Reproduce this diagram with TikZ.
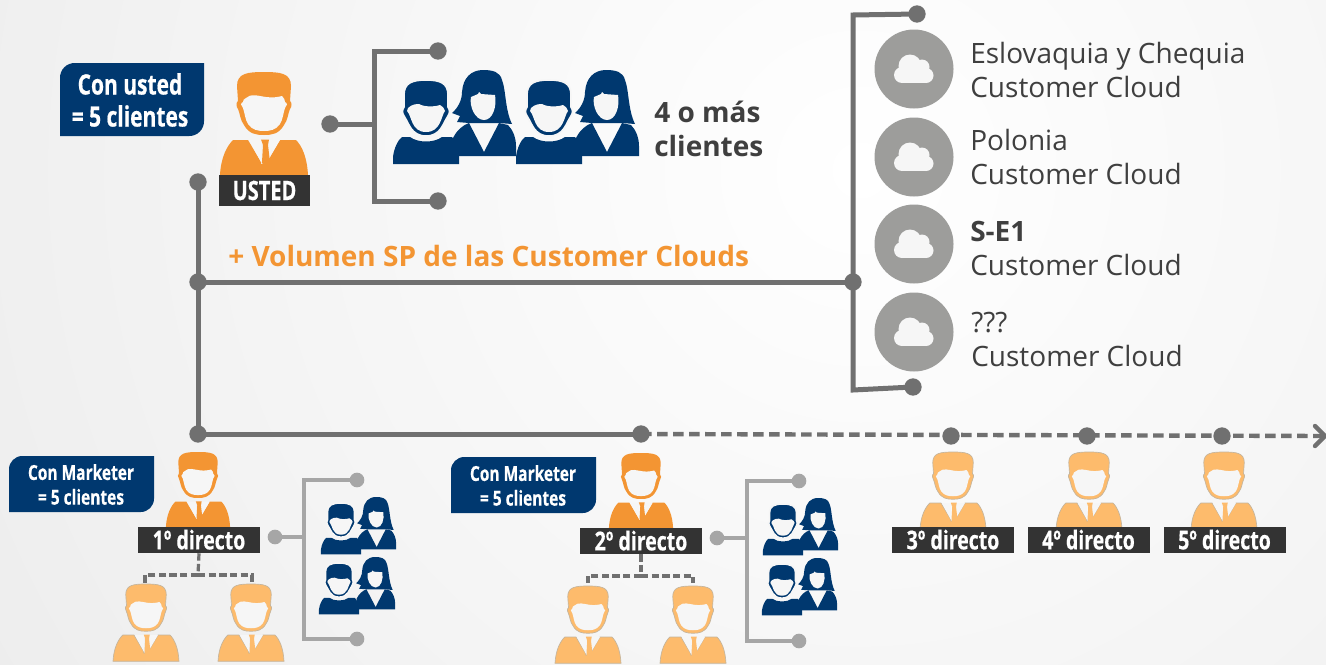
\documentclass[tikz,border=0pt]{standalone}
\usepackage{fontspec}
\setmainfont{Open Sans}
\newfontfamily\cond[FakeStretch=0.75,FakeBold=0.5]{Open Sans Bold}
\newcommand{\plateup}[1]{\raisebox{.8pt}{#1}}
\definecolor{navy}{HTML}{00386F}
\definecolor{orangeM}{HTML}{F39533}
\definecolor{orangeL}{HTML}{FDBB6C}
\definecolor{edgeL}{HTML}{C4B59E}
\definecolor{darkL}{HTML}{333333}
\definecolor{lineD}{HTML}{707070}
\definecolor{lineL}{HTML}{A6A6A6}
\definecolor{cloudG}{HTML}{9D9D9B}
\definecolor{faceC}{HTML}{F6F6F6}
\definecolor{txt}{HTML}{3F3F3F}
\tikzset{
  conn/.style={draw=lineD,line width=3.75pt},
  connL/.style={draw=lineL,line width=3pt},
  dashc/.style={draw=lineD,line width=3.3pt,dash pattern=on 8pt off 4pt},
  tree/.style={draw=lineD,line width=2.4pt,dash pattern=on 5.5pt off 2.5pt},
  dotD/.style={circle,fill=lineD,inner sep=0pt,minimum size=13pt},
  dotL/.style={circle,fill=lineL,inner sep=0pt,minimum size=11pt},
  plate/.style={fill=darkL,text=white,inner sep=0pt,font=\cond\fontsize{19.5}{22}\selectfont,minimum height=19.5pt,minimum width=91.5pt},
  calloutA/.style={text=white,align=center,inner sep=0pt,font=\cond\fontsize{21}{24}\selectfont},
  calloutB/.style={text=white,align=center,inner sep=0pt,font=\cond\fontsize{15.5}{18.5}\selectfont},
  ccloud/.style={text=txt,align=left,anchor=west,inner sep=0pt,font=\fontsize{21}{25.5}\selectfont},
  pics/man/.style n args={2}{code={
    \path[fill=#1,draw=#2,line width=.5pt] (0,0) .. controls (16,0) and (27,1) .. (27,14)
      -- (26,29) .. controls (28,30) and (28,35) .. (26,37)
      .. controls (24,41) and (24,48) .. (20,53)
      .. controls (15,62) and (8,63) .. (0,63)
      .. controls (-8,63) and (-15,62) .. (-20,53)
      .. controls (-24,48) and (-24,41) .. (-26,37)
      .. controls (-28,35) and (-28,30) .. (-26,29)
      -- (-27,14) .. controls (-27,1) and (-16,0) .. (0,0) -- cycle;
    \path[fill=faceC] (-18,26) .. controls (-13,21) and (-6,24) .. (2,25)
      .. controls (9,26) and (14,25) .. (18,24)
      .. controls (20,26) and (21,28) .. (21,30)
      .. controls (24,31) and (23,34) .. (21,36)
      .. controls (19,42) and (19,47) .. (16,52)
      .. controls (12,58) and (6,59) .. (0,59)
      .. controls (-6,59) and (-12,58) .. (-16,52)
      .. controls (-19,47) and (-19,42) .. (-21,36)
      .. controls (-23,34) and (-24,31) .. (-21,30)
      .. controls (-21,28) and (-20,27) .. (-18,26) -- cycle;
    \path[fill=#1,draw=#2,line width=.5pt] (-44,103) .. controls (-43,85) and (-37,74) .. (-31,68)
      -- (-16,68) -- (-3,90) -- (-3,92) -- (3,92) -- (3,90) -- (16,68) -- (32,68)
      .. controls (38,74) and (43,85) .. (44,103) -- cycle;
    \path[fill=faceC] (-15,68) -- (-3,90) -- (-3,72) -- (3,72) -- (3,90) -- (16,68) -- cycle;
    \path[fill=#1] (-3,67.5) -- (5,67.5) -- (4,73) -- (6,90) -- (0,98) -- (-2,90) -- (-1,73) -- cycle;
  }},
  pics/teamman/.style={code={
    \path[fill=navy,draw=faceC,line width=1.2pt] (0,0) .. controls (14,0) and (22,3) .. (22,15)
      -- (22,27) .. controls (24,30) and (24,33) .. (22,36)
      .. controls (17,43) and (15,56) .. (0,56)
      .. controls (-15,56) and (-17,43) .. (-22,36)
      .. controls (-24,33) and (-24,30) .. (-22,27)
      -- (-22,15) .. controls (-22,3) and (-14,0) .. (0,0) -- cycle;
    \path[fill=faceC] (-18,28) .. controls (-14,24) and (-9,24) .. (-7,24)
      .. controls (-2,27) and (8,27) .. (14,25)
      .. controls (17,27) and (19,29) .. (19,31)
      .. controls (15,36) and (15,52) .. (0,52)
      .. controls (-15,52) and (-14,36) .. (-19,31) -- cycle;
    \path[fill=navy] (-33,84) -- (-33,77) .. controls (-32,68) and (-28,60) .. (-24,57)
      -- (-16,57) .. controls (-8,63) and (8,63) .. (16,57) -- (26,57)
      .. controls (30,62) and (33,68) .. (33,75) -- (33,84) -- cycle;
  }},
  pics/teamwoman/.style={code={
    \path[fill=navy] (0,0) .. controls (10,0) and (17,2) .. (19,10)
      .. controls (23,20) and (22,40) .. (29,54)
      -- (16,53) -- (1,53) -- (-14,53) -- (-26,52) -- (-23,46) -- (-31,43)
      .. controls (-25,38) and (-21,30) .. (-21,22)
      .. controls (-20,8) and (-12,0) .. (0,0) -- cycle;
    \path[fill=faceC] (-12,27) -- (-5,24) -- (-4,22) -- (-2,24) -- (12,25)
      .. controls (14,36) and (10,50) .. (1,50)
      .. controls (-8,50) and (-14,36) .. (-12,27) -- cycle;
    \path[fill=navy] (-31,86) -- (-30,68) .. controls (-26,60) and (-20,55) .. (-14,53)
      -- (1,82) -- (16,53) -- (25,55) .. controls (30,60) and (33,68) .. (33,76) -- (33,86) -- cycle;
  }},
  pics/cloudicon/.style={code={
    \fill[cloudG] (0,0) circle[radius=39.5];
    \fill[faceC] (-4,-3) circle[radius=11.5];
    \fill[faceC] (8,-2) circle[radius=7.5];
    \fill[faceC] (-12,6) circle[radius=8];
    \fill[faceC] (12,6.5) circle[radius=7.5];
    \fill[faceC] (-12,-1) rectangle (12,14);
  }},
}
\begin{document}
\begin{tikzpicture}[x=.75pt,y=-.75pt]
\useasboundingbox (0,0) rectangle (1326,664);
\clip (0,0) rectangle (1326,664);
\shade[inner color=white,outer color=black!7] (860,170) circle[radius=1000];

% connectors' end points
\node[dotD] (you) at (198,182) {};
\node[dotD] (jcloud) at (198,282) {};
\node[dotD] (jdir) at (198,434) {};
\node[dotD] (d2) at (641,434) {};
\node[dotD] (d3) at (951,436) {};
\node[dotD] (d4) at (1087,436) {};
\node[dotD] (d5) at (1222,436) {};
\coordinate (tip) at (1325,436);
\node[dotD] (cl) at (853,282) {};
\node[dotD] (cltop) at (917,14) {};
\node[dotD] (clbot) at (913,387) {};
\coordinate (clTL) at (853,15);
\coordinate (clBL) at (853,390);
\node[dotD] (ug) at (330,124) {};
\node[dotD] (ugt) at (438,51) {};
\node[dotD] (ugb) at (438,201) {};
\coordinate (ugv) at (374,124);
\coordinate (ugTL) at (374,51);
\coordinate (ugBL) at (374,201);

\draw[conn] (you.center) -- (jdir.center) -- (d2.center);
\draw[conn] (jcloud.center) -- (cl.center);
\draw[conn,line join=miter] (cltop.center) -- (clTL) -- (clBL) -- (clbot.center);
\draw[conn] (ug.center) -- (ugv);
\draw[conn,line join=miter] (ugt.center) -- (ugTL) -- (ugBL) -- (ugb.center);
\draw[dashc] (d2.center) -- (tip);
\draw[draw=lineD,line width=3.3pt,line cap=round] (1315,426) -- (tip) -- (1315,446);

% group 1
\node[dotL] (g1) at (275,537) {};
\node[dotL] (g1t) at (357,480) {};
\node[dotL] (g1b) at (357,639) {};
\coordinate (g1v) at (304,537);
\coordinate (g1TL) at (304,480);
\coordinate (g1BL) at (304,639);
\draw[connL] (g1.center) -- (g1v);
\draw[connL,line join=miter] (g1t.center) -- (g1TL) -- (g1BL) -- (g1b.center);
% group 2
\node[dotL] (g2) at (717,538) {};
\node[dotL] (g2t) at (799,481) {};
\node[dotL] (g2b) at (799,641) {};
\coordinate (g2v) at (747,538);
\coordinate (g2TL) at (747,481);
\coordinate (g2BL) at (747,641);
\draw[connL] (g2.center) -- (g2v);
\draw[connL,line join=miter] (g2t.center) -- (g2TL) -- (g2BL) -- (g2b.center);

% people: orange
\pic at (264,72) {man={orangeM}{none}};
\pic[scale=.73] at (198,452) {man={orangeM}{none}};
\pic[scale=.73] at (641,453) {man={orangeM}{none}};
\pic[scale=.75] at (146,584) {man={orangeL}{edgeL}};
\pic[scale=.75] at (251,584) {man={orangeL}{edgeL}};
\pic[scale=.75] at (588,586) {man={orangeL}{edgeL}};
\pic[scale=.75] at (693,586) {man={orangeL}{edgeL}};
\pic[scale=.75] at (953,452) {man={orangeL}{edgeL}};
\pic[scale=.75] at (1089,452) {man={orangeL}{edgeL}};
\pic[scale=.75] at (1224,452) {man={orangeL}{edgeL}};

% teams
\pic at (483,70) {teamwoman};
\pic at (426,80) {teamman};
\pic at (606,70) {teamwoman};
\pic at (549,80) {teamman};
\pic[scale=.61] at (376,497) {teamwoman};
\pic[scale=.61] at (341,503) {teamman};
\pic[scale=.61] at (375,557) {teamwoman};
\pic[scale=.61] at (339,563) {teamman};
\pic[scale=.61] at (818,498) {teamwoman};
\pic[scale=.61] at (783,504) {teamman};
\pic[scale=.61] at (817,558) {teamwoman};
\pic[scale=.61] at (782,564) {teamman};

% name plates
\node[plate,minimum width=68.25pt,minimum height=23.25pt,font=\cond\fontsize{20}{22}\selectfont] (pU) at (264.5,190.5) {USTED};
\node[plate] (p1) at (199,540) {\plateup{1º directo}};
\node[plate] (p2) at (641,541) {\plateup{2º directo}};
\node[plate] (p3) at (953,540) {\plateup{3º directo}};
\node[plate] (p4) at (1088.5,540) {\plateup{4º directo}};
\node[plate] (p5) at (1224.5,540) {\plateup{5º directo}};

% dashed trees
\coordinate (t1) at (198,575);
\coordinate (t1a) at (145,583);
\coordinate (t1b) at (252,583);
\draw[tree] (p1.south) -- (t1);
\draw[tree] (t1) -- (t1a |- t1) -- (t1a);
\draw[tree] (t1) -- (t1b |- t1) -- (t1b);
\coordinate (t2) at (641,576);
\coordinate (t2a) at (588,583);
\coordinate (t2b) at (693,583);
\draw[tree] (p2.south) -- (t2);
\draw[tree] (t2) -- (t2a |- t2) -- (t2a);
\draw[tree] (t2) -- (t2b |- t2) -- (t2b);

% callouts
\fill[navy] (60,136) [rounded corners=11pt] -- (60,63) [sharp corners] -- (204,63) [rounded corners=11pt] -- (204,136) [sharp corners] -- cycle;
\node[calloutA] (cA) at (130,100) {Con usted\\= 5 clientes};
\fill[navy] (9,512) [rounded corners=10pt] -- (9,456) [sharp corners] -- (154,456) [rounded corners=10pt] -- (154,512) [sharp corners] -- cycle;
\node[calloutB] (cB) at (81,484.5) {Con Marketer\\= 5 clientes};
\fill[navy] (451,513) [rounded corners=10pt] -- (451,457) [sharp corners] -- (596,457) [rounded corners=10pt] -- (596,513) [sharp corners] -- cycle;
\node[calloutB] (cC) at (523,485.5) {Con Marketer\\= 5 clientes};

% texts
\node[anchor=west,text=txt,align=left,inner sep=0pt,font=\bfseries\fontsize{21}{25.5}\selectfont] (four) at (654,129) {4 o más\\clientes};
\node[anchor=base west,inner sep=0pt,text=orangeM,font=\bfseries\fontsize{21}{25}\selectfont] (vol) at (228,266) {+ Volumen SP de las Customer Clouds};

% clouds
\pic at (914,69) {cloudicon};
\pic at (914,157) {cloudicon};
\pic at (914,244) {cloudicon};
\pic at (914,332) {cloudicon};
\node[ccloud] (c1) at (970,70) {Eslovaquia y Chequia\\Customer Cloud};
\node[ccloud] (c2) at (970,157) {Polonia\\Customer Cloud};
\node[ccloud] (c3) at (970,248) {\textbf{S-E1}\\Customer Cloud};
\node[ccloud] (c4) at (971,339) {???\\Customer Cloud};
\end{tikzpicture}
\end{document}
